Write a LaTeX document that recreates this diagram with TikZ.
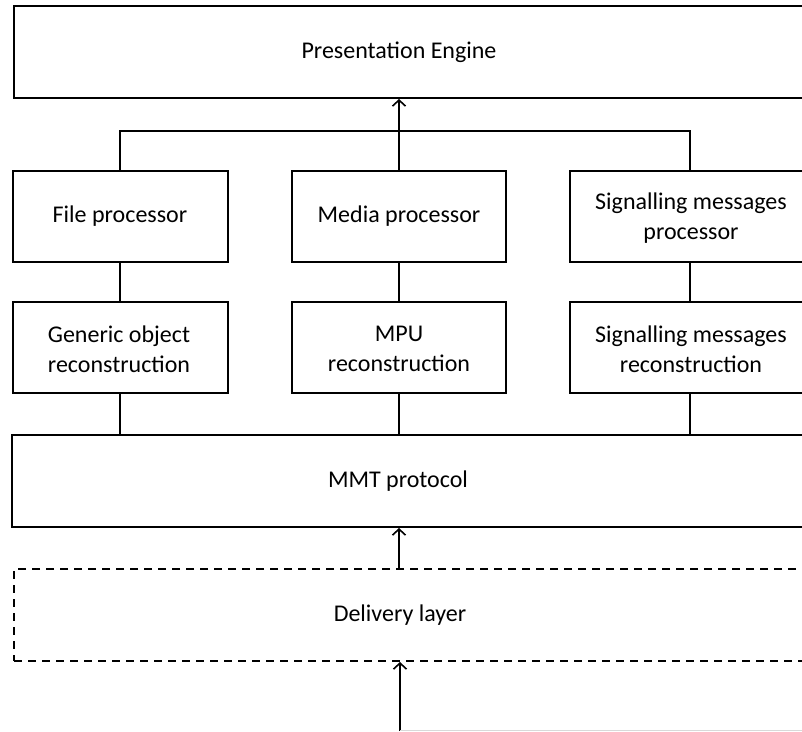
\documentclass[tikz,border=0pt]{standalone}
\usepackage{fontspec}
\setmainfont{Carlito}
\usetikzlibrary{arrows.meta}
\begin{document}
\begin{tikzpicture}[x=1pt,y=-1pt,
  box/.style={draw=black, line width=2pt, rectangle, inner sep=0pt, align=center},
  dbox/.style={box, dash pattern=on 8pt off 6pt},
  lbl/.style={inner sep=0pt, align=center, font=\fontsize{24}{30}\selectfont},
  conn/.style={draw=black, line width=2pt},
  arr/.style={conn, -{Straight Barb[length=6pt,width=13pt,line width=1.6pt]}}
]
\useasboundingbox[fill=white] (0,0) rectangle (802,731);
% boxes
\node[box, minimum width=800pt, minimum height=92pt] (pe) at (414,52) {};
\node[lbl] (pet) at (399,52) {Presentation Engine};
\node[box, minimum width=215pt, minimum height=91pt] (fp) at (120,216.5) {};
\node[lbl] (fpt) at (120,216.5) {File processor};
\node[box, minimum width=214pt, minimum height=91pt] (mp) at (399,216.5) {};
\node[lbl] (mpt) at (399,216.5) {Media processor};
\node[box, minimum width=240pt, minimum height=91pt] (sp) at (690,216.5) {};
\node[lbl] (spt) at (691,218) {Signalling messages\\processor};
\node[box, minimum width=215pt, minimum height=91pt] (fg) at (120,347.5) {};
\node[lbl] (fgt) at (119,349) {Generic object\\reconstruction};
\node[box, minimum width=214pt, minimum height=91pt] (mr) at (399,347.5) {};
\node[lbl] (mrt) at (399,349) {MPU\\reconstruction};
\node[box, minimum width=240pt, minimum height=91pt] (sr) at (690,347.5) {};
\node[lbl] (srt) at (691,349) {Signalling messages\\reconstruction};
\node[box, minimum width=800pt, minimum height=92pt] (mmt) at (412,481) {};
\node[lbl] (mmtt) at (398,481) {MMT protocol};
\node[dbox, minimum width=800pt, minimum height=92pt] (dl) at (414,615) {};
\node[lbl] (dlt) at (400,615) {Delivery layer};
% connectors
\coordinate (bus) at (399,131);
\draw[conn] (fp.north) |- (bus) -| (sp.north);
\draw[arr] (mp.north) -- (pe.south -| mp.north);
\draw[conn] (fp.south) -- (fg.north);
\draw[conn] (mp.south) -- (mr.north);
\draw[conn] (sp.south) -- (sr.north);
\draw[conn] (fg.south) -- (fg.south |- mmt.north);
\draw[conn] (mr.south) -- (mr.south |- mmt.north);
\draw[conn] (sr.south) -- (sr.south |- mmt.north);
\draw[arr] (dl.north -| mr.south) -- (mmt.south -| mr.south);
\coordinate (src) at (400,731);
\coordinate (rt) at (802,730);
\draw[arr] (src) -- (src |- dl.south);
\draw[black!15, line width=1pt] (400,730) -- (rt);
\end{tikzpicture}
\end{document}
